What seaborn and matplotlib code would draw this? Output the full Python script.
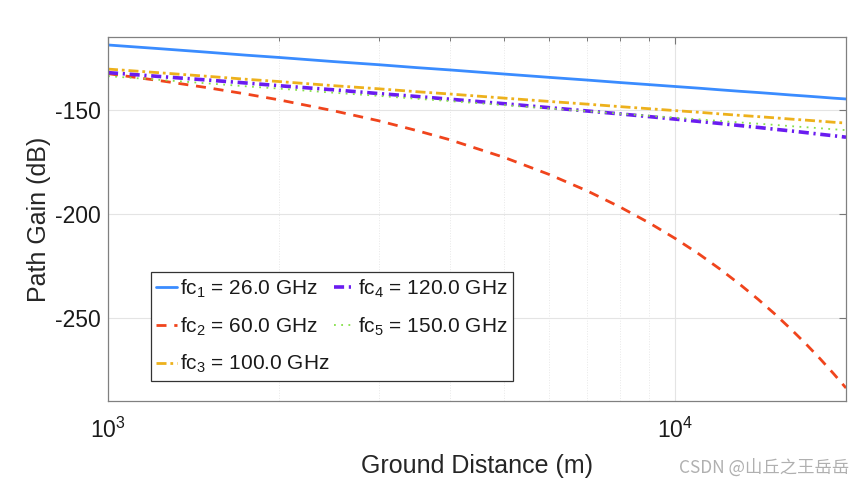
import numpy as np
import pandas as pd
import matplotlib
matplotlib.use("Agg")
import matplotlib.pyplot as plt
from matplotlib.ticker import NullFormatter, FixedLocator, LogLocator
import seaborn as sns

distance_m = [1000, 1250, 1500, 1750, 2000, 2500, 3000, 3500, 4000, 5000,
              6000, 7000, 8000, 9000, 10000, 11000, 12000, 13000, 14000,
              15000, 16000, 17000, 18000, 19000, 20000]

# Path gain (dB) for each carrier frequency
gain_fc1 = [-118.7, -120.6, -122.2, -123.6, -124.7, -126.7, -128.2, -129.6, -130.7, -132.7,
            -134.3, -135.6, -136.8, -137.8, -138.7, -139.5, -140.3, -141.0, -141.6,
            -142.2, -142.8, -143.3, -143.8, -144.3, -144.7]
gain_fc2 = [-132.5, -136.1, -139.3, -142.3, -145.1, -150.4, -155.2, -159.9, -164.3, -172.9,
            -181.1, -189.0, -196.8, -204.4, -211.9, -219.3, -226.7, -234.0, -241.2,
            -248.4, -255.6, -262.7, -269.8, -276.9, -283.9]
gain_fc3 = [-130.3, -132.2, -133.8, -135.2, -136.3, -138.3, -139.8, -141.2, -142.3, -144.3,
            -145.9, -147.2, -148.4, -149.4, -150.3, -151.1, -151.9, -152.6, -153.2,
            -153.8, -154.4, -154.9, -155.4, -155.9, -156.3]
gain_fc4 = [-132.0, -134.0, -135.6, -137.0, -138.3, -140.3, -142.1, -143.5, -144.8, -147.0,
            -148.9, -150.5, -151.9, -153.2, -154.4, -155.5, -156.5, -157.5, -158.4,
            -159.3, -160.1, -160.9, -161.7, -162.4, -163.1]
gain_fc5 = [-133.7, -135.6, -137.2, -138.6, -139.7, -141.7, -143.2, -144.6, -145.7, -147.7,
            -149.3, -150.6, -151.8, -152.8, -153.7, -154.5, -155.3, -156.0, -156.6,
            -157.2, -157.8, -158.3, -158.8, -159.3, -159.7]

series_labels = [r"fc$_\mathregular{1}$ = 26.0 GHz", r"fc$_\mathregular{2}$ = 60.0 GHz",
                 r"fc$_\mathregular{3}$ = 100.0 GHz", r"fc$_\mathregular{4}$ = 120.0 GHz",
                 r"fc$_\mathregular{5}$ = 150.0 GHz"]
colors = ["#3a8cff", "#f0441c", "#edb11c", "#6a1cf0", "#86e04a"]

sns.set_theme(style="white")
plt.rcParams["font.family"] = ["Liberation Sans", "DejaVu Sans"]
plt.rcParams["mathtext.fontset"] = "custom"
plt.rcParams["mathtext.rm"] = "Liberation Sans"
plt.rcParams["mathtext.it"] = "Liberation Sans:italic"
plt.rcParams["axes.unicode_minus"] = False
plt.rcParams["text.color"] = "#1a1a1a"

fig = plt.figure(figsize=(8.68, 4.94), dpi=100)
ax = fig.add_axes([0.1244, 0.1889, 0.8503, 0.7356])

all_gains = [gain_fc1, gain_fc2, gain_fc3, gain_fc4, gain_fc5]
styles = [
    dict(linestyle="-", linewidth=2.0),
    dict(linestyle=(0, (3.6, 2.8)), linewidth=2.0),
    dict(linestyle=(0, (3.6, 1.4, 1.0, 1.4)), linewidth=2.0),
    dict(linestyle=(0, (2.8, 1.3, 0.6, 1.3)), linewidth=2.6),
    dict(linestyle=(0, (1, 3)), linewidth=1.3),
]

for g, lab, c, st in zip(all_gains, series_labels, colors, styles):
    df = pd.DataFrame({"Distance": distance_m, "Gain": g})
    sns.lineplot(data=df, x="Distance", y="Gain", ax=ax, color=c, label=lab, **st)

ax.set_xscale("log")
ax.set_xlim(1000, 20000)
ax.set_ylim(-290, -115)
ax.yaxis.set_major_locator(FixedLocator([-250, -200, -150]))
ax.xaxis.set_minor_locator(LogLocator(base=10, subs=np.arange(2, 10)))
ax.xaxis.set_minor_formatter(NullFormatter())

# MATLAB-like grid and ticks
ax.grid(True, which="major", color="#e4e4e4", linewidth=0.8)
ax.grid(True, which="minor", axis="x", color="#e8e8e8", linewidth=0.7, linestyle=":")
ax.tick_params(which="both", direction="in", top=True, right=True, colors="#777777",
               labelcolor="#1a1a1a", labelsize=16.5)
ax.tick_params(which="major", length=5, width=0.8)
ax.tick_params(which="minor", length=3, width=0.7)
ax.tick_params(axis="x", pad=12)
ax.tick_params(axis="y", pad=5)
for sp in ax.spines.values():
    sp.set_color("#808080")
    sp.set_linewidth(0.9)

ax.set_xlabel("Ground Distance (m)", fontsize=18, labelpad=8)
ax.set_ylabel("Path Gain (dB)", fontsize=18, labelpad=3)

leg = ax.legend(loc="lower left", bbox_to_anchor=(0.058, 0.055), borderaxespad=0,
                ncol=2, fontsize=15, handlelength=1.0, handletextpad=0.15,
                columnspacing=0.2, labelspacing=0.75, borderpad=0.25,
                fancybox=False, framealpha=1)
leg.get_frame().set_edgecolor("#333333")
leg.get_frame().set_linewidth(0.9)

fig.text(0.978, 0.035, "CSDN @山丘之王岳岳", ha="right", va="bottom", fontsize=12.5,
         color="#b0b0b0", family=["Noto Sans CJK SC", "DejaVu Sans"])

plt.savefig("out.png", dpi=100)
